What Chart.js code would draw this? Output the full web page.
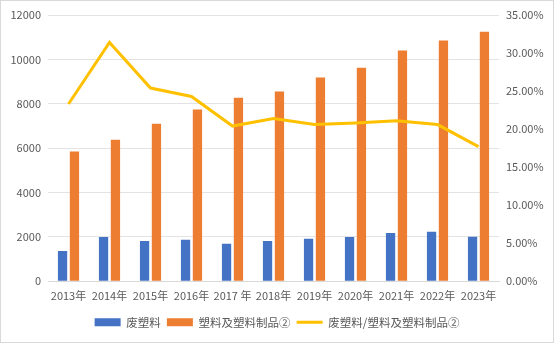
<!DOCTYPE html>
<html>
<head>
    <meta charset="utf-8">
    <title>废塑料</title>
    <script src="https://cdn.jsdelivr.net/npm/chart.js"></script>
    <style>
        body { margin: 0; background: #fff; }
        .chart-box {
            width: 554px;
            height: 343px;
            box-sizing: border-box;
            border: 1px solid #d9d9d9;
        }
    </style>
</head>
<body>
    <div class="chart-box">
        <canvas id="plasticChart"></canvas>
    </div>

    <script>
        // data
        const years = ["2013年", "2014年", "2015年", "2016年", "2017 年", "2018年",
                       "2019年", "2020年", "2021年", "2022年", "2023年"];
        const wastePlastic = [1370, 2000, 1820, 1870, 1690, 1820, 1920, 2000, 2180, 2230, 2010];
        const plasticProducts = [5850, 6380, 7100, 7740, 8270, 8550, 9180, 9620, 10400, 10850, 11250];
        const wasteRatio = [23.3, 31.4, 25.4, 24.3, 20.4, 21.4, 20.6, 20.8, 21.1, 20.6, 17.7];

        const leftTicks = [0, 2000, 4000, 6000, 8000, 10000, 12000];

        const tickFont = { family: "'Noto Sans CJK SC', 'Noto Sans', sans-serif", size: 11 };

        const ctx = document.getElementById("plasticChart").getContext("2d");

        new Chart(ctx, {
            type: "bar",
            data: {
                labels: years,
                datasets: [
                    {
                        label: "废塑料",
                        data: wastePlastic,
                        backgroundColor: "#4472C4",
                        yAxisID: "y",
                        order: 1,
                        pointStyle: "rect",
                        categoryPercentage: 0.58,
                        barPercentage: 0.78
                    },
                    {
                        label: "塑料及塑料制品②",
                        data: plasticProducts,
                        backgroundColor: "#ED7D31",
                        yAxisID: "y",
                        order: 1,
                        pointStyle: "rect",
                        categoryPercentage: 0.58,
                        barPercentage: 0.78
                    },
                    {
                        type: "line",
                        label: "废塑料/塑料及塑料制品②",
                        data: wasteRatio,
                        borderColor: "#FFC000",
                        backgroundColor: "#FFC000",
                        borderWidth: 3,
                        pointRadius: 0,
                        pointStyle: "line",
                        tension: 0,
                        yAxisID: "y1",
                        order: 0
                    }
                ]
            },
            options: {
                responsive: true,
                maintainAspectRatio: false,
                animation: false,
                layout: { padding: { top: 14, right: 0, bottom: 4, left: 0 } },
                plugins: {
                    tooltip: { enabled: false },
                    legend: {
                        position: "bottom",
                        labels: {
                            usePointStyle: true,
                            pointStyleWidth: 26,
                            boxHeight: 8,
                            padding: 6,
                            color: "#595959",
                            font: { family: tickFont.family, size: 11.5 },
                            sort: (a, b) => a.datasetIndex - b.datasetIndex
                        }
                    }
                },
                scales: {
                    x: {
                        grid: { display: false, drawTicks: false },
                        border: { color: "#d9d9d9" },
                        ticks: { color: "#595959", font: tickFont, padding: 8, maxRotation: 0, autoSkip: false }
                    },
                    y: {
                        position: "left",
                        min: 0,
                        max: 12000,
                        afterBuildTicks: (scale) => { scale.ticks = leftTicks.map(v => ({ value: v })); },
                        afterFit: (scale) => { scale.width = 47; },
                        grid: { color: "#e3e3e3", drawTicks: false },
                        border: { display: false },
                        ticks: { color: "#595959", font: tickFont, padding: 7, callback: v => String(v) }
                    },
                    y1: {
                        position: "right",
                        min: 0,
                        max: 35,
                        afterFit: (scale) => { scale.width = 54; },
                        grid: { display: false, drawTicks: false },
                        border: { display: false },
                        ticks: { color: "#595959", font: tickFont, padding: 7, stepSize: 5, callback: v => v.toFixed(2) + "%" }
                    }
                }
            }
        });
    </script>
</body>
</html>
